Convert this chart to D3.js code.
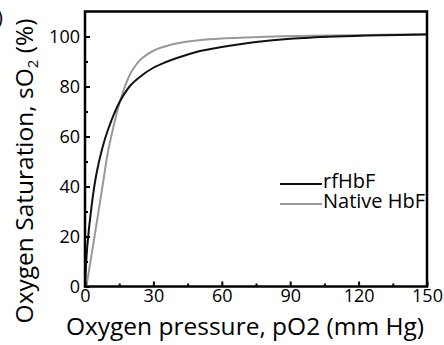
<!DOCTYPE html>
<html>
<head>
<meta charset="utf-8">
<script src="https://cdn.jsdelivr.net/npm/d3@7"></script>
<style>
  body { margin: 0; background: #fff; }
  text { font-family: "Open Sans", sans-serif; fill: #000; }
</style>
</head>
<body>
<svg id="chart" width="444" height="345"></svg>
<script>
// values
var rfX = [0, 1, 3, 5, 7.5, 10, 15, 20, 25, 30, 35, 40, 50, 60, 75, 90, 110, 130, 150]
var rfY = [0, 16, 33, 45, 55, 62.5, 73.5, 80.5, 84.5, 87.5, 89.6, 91.3, 94.1, 95.8, 97.8, 99.1, 100, 100.5, 100.8]
var nativeX = [0.6, 4, 8, 10, 12.5, 15, 17.5, 20, 22.5, 25, 30, 35, 40, 50, 60, 80, 100, 150]
var nativeY = [0, 19, 42, 53.5, 64, 73, 80, 85.3, 88.8, 91.3, 94.3, 96, 97.2, 98.5, 99.2, 99.9, 100.3, 101]
var xTicks = [0, 30, 60, 90, 120, 150]
var yTicks = [0, 20, 40, 60, 80, 100]
var seriesNames = ["rfHbF", "Native HbF"]
var seriesColors = ["#111", "#999"]

var svg = d3.select("#chart")
var mLeft = 85, mRight = 427, mTop = 11.5, mBottom = 286.5

var x = d3.scaleLinear().domain([0, 150]).range([mLeft, mRight])
var y = d3.scaleLinear().domain([0, 110]).range([mBottom, mTop])

// curves
var line = d3.line()
  .x(function(d){ return x(d[0]) })
  .y(function(d){ return y(d[1]) })
  .curve(d3.curveCatmullRom.alpha(0.5))

var series = [d3.zip(rfX, rfY), d3.zip(nativeX, nativeY)]
// draw native first so black sits on top
;[1, 0].forEach(function(i){
  svg.append("path")
    .attr("d", line(series[i]))
    .attr("fill", "none")
    .attr("stroke", seriesColors[i])
    .attr("stroke-width", 2)
})

// axes, ticks pointing inward
var xAxis = svg.append("g").attr("transform", "translate(0," + mBottom + ")")
  .call(d3.axisBottom(x).tickValues(xTicks).tickSizeInner(-5).tickSizeOuter(0).tickPadding(6))
var xMinor = svg.append("g").attr("transform", "translate(0," + mBottom + ")")
  .call(d3.axisBottom(x).tickValues(d3.range(15, 150, 30)).tickSizeInner(-3).tickSizeOuter(0).tickFormat(""))
var yAxis = svg.append("g").attr("transform", "translate(" + mLeft + ",0)")
  .call(d3.axisLeft(y).tickValues(yTicks).tickSizeInner(-5).tickSizeOuter(0).tickPadding(5))
var yMinor = svg.append("g").attr("transform", "translate(" + mLeft + ",0)")
  .call(d3.axisLeft(y).tickValues(d3.range(10, 110, 20)).tickSizeInner(-3).tickSizeOuter(0).tickFormat(""))

;[xAxis, xMinor, yAxis, yMinor].forEach(function(g){
  g.select(".domain").remove()
  g.selectAll(".tick line").attr("stroke", "#000").attr("stroke-width", 2)
  g.selectAll(".tick text").style("font-size", "18px").style("font-family", "'Open Sans', sans-serif").attr("fill", "#000")
})
xAxis.selectAll(".tick text").attr("dy", "0.55em")

// frame
svg.append("rect")
  .attr("x", mLeft).attr("y", mTop)
  .attr("width", mRight - mLeft).attr("height", mBottom - mTop)
  .attr("fill", "none").attr("stroke", "#000").attr("stroke-width", 2.5)

// axis titles
svg.append("text")
  .attr("x", 245).attr("y", 335)
  .attr("text-anchor", "middle")
  .style("font-size", "24.5px")
  .text("Oxygen pressure, pO2 (mm Hg)")

var yt = svg.append("text")
  .attr("transform", "translate(33,171) rotate(-90)")
  .attr("text-anchor", "middle")
  .style("font-size", "24.5px")
yt.append("tspan").text("Oxygen Saturation, sO")
yt.append("tspan").text("2").attr("dy", 5).style("font-size", "15px")
yt.append("tspan").text(" (%)").attr("dy", -5)

// leftover panel label
svg.append("text").attr("x", -3).attr("y", 24).style("font-size", "20px").text(")")

// legend
var legend = svg.append("g")
seriesNames.forEach(function(name, i){
  var ly = 184 + i * 20
  legend.append("line")
    .attr("x1", 280).attr("x2", 322).attr("y1", ly).attr("y2", ly)
    .attr("stroke", seriesColors[i]).attr("stroke-width", 2)
  legend.append("text")
    .attr("x", 323).attr("y", ly + 2)
    .attr("dy", "0.1em")
    .style("font-size", "20px")
    .text(name)
})
</script>
</body>
</html>
